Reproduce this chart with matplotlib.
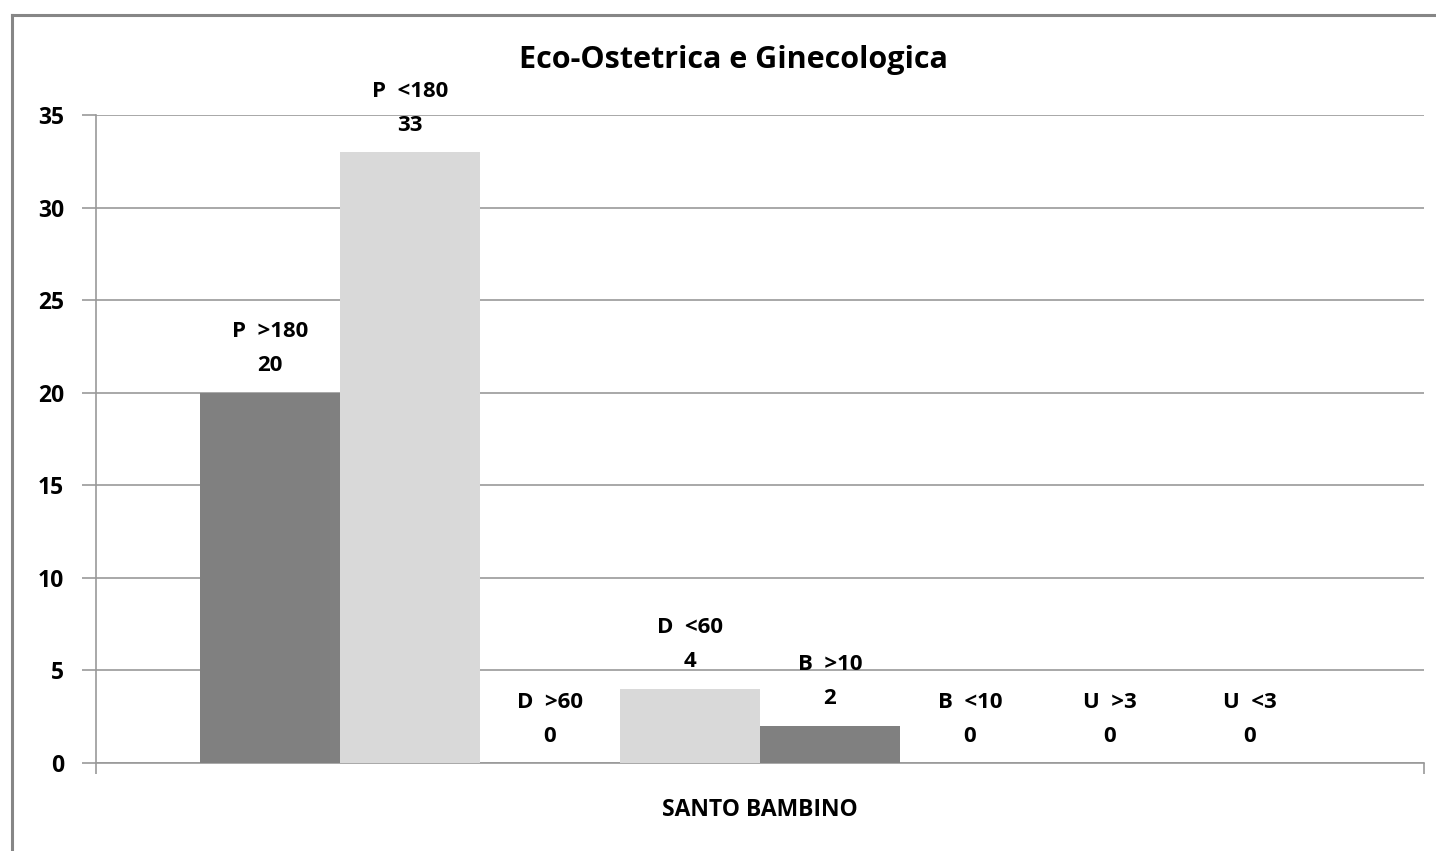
import matplotlib.pyplot as plt
from matplotlib.lines import Line2D

# ------------------------------------------------------------------
# Data: one group (hospital) with 8 series
# ------------------------------------------------------------------
group_name = "SANTO BAMBINO"
series_labels = ["P  >180", "P  <180", "D  >60", "D  <60",
                 "B  >10", "B  <10", "U  >3", "U  <3"]
series_values = [20, 33, 0, 4, 2, 0, 0, 0]
series_colors = ["#808080", "#D9D9D9", "#808080", "#D9D9D9",
                 "#808080", "#D9D9D9", "#808080", "#D9D9D9"]
y_ticks = [0, 5, 10, 15, 20, 25, 30, 35]

plt.rcParams["font.family"] = ["Open Sans", "DejaVu Sans"]
plt.rcParams["font.weight"] = "bold"

fig = plt.figure(figsize=(14.36, 8.51), dpi=100)
ax = fig.add_axes([96/1436, 1 - 763/851, (1424 - 96)/1436, (763 - 115)/851])

bar_w = 140 / 1328
n = len(series_values)
start = -bar_w * n / 2

# ------------------------------------------------------------------
# Bars + two-line data labels
# ------------------------------------------------------------------
for i, (lab, val, col) in enumerate(zip(series_labels, series_values, series_colors)):
    x = start + bar_w * (i + 0.5)
    ax.bar(x, val, width=bar_w, color=col, zorder=3)
    ax.annotate(str(val), xy=(x, val), xytext=(0, 27), textcoords="offset pixels",
                ha="center", va="center", fontsize=16, fontweight="bold")
    ax.annotate(lab, xy=(x, val), xytext=(0, 61), textcoords="offset pixels",
                ha="center", va="center", fontsize=16, fontweight="bold")

# ------------------------------------------------------------------
# Axes cosmetics
# ------------------------------------------------------------------
ax.set_xlim(-0.5, 0.5)
ax.set_ylim(0, 35)
ax.set_yticks(y_ticks)
ax.set_yticklabels([str(t) for t in y_ticks], fontsize=16.5, fontweight="bold")
ax.yaxis.grid(True, color="#999999", lw=1.2, zorder=0)
ax.tick_params(axis="y", length=10, color="#999999", width=1.2, pad=13)
ax.set_xticks([-0.5, 0.5])
ax.set_xticklabels([])
ax.set_xticks([0], minor=True)
ax.set_xticklabels([group_name], minor=True, fontsize=16.5, fontweight="bold")
ax.tick_params(axis="x", which="major", length=8, color="#999999", width=1.2)
ax.tick_params(axis="x", which="minor", length=0, pad=25)
for s in ["top", "right"]:
    ax.spines[s].set_visible(False)
for s in ["left", "bottom"]:
    ax.spines[s].set_color("#999999")
    ax.spines[s].set_linewidth(1.2)

fig.text(733/1436, 1 - 60/851, "Eco-Ostetrica e Ginecologica",
         ha="center", va="center", fontsize=22, fontweight="bold")

# outer chart border (top + left visible)
fig.add_artist(Line2D([11.5/1436, 11.5/1436], [0, 1 - 14.5/851],
                      transform=fig.transFigure, color="#868686", lw=2.2))
fig.add_artist(Line2D([11.5/1436, 1], [1 - 14.5/851, 1 - 14.5/851],
                      transform=fig.transFigure, color="#868686", lw=2.2))

fig.savefig("out.png", dpi=100)
